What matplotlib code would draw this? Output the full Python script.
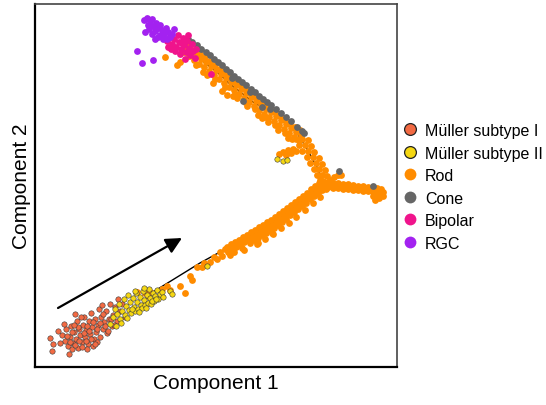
import numpy as np
import matplotlib
matplotlib.use("Agg")
import matplotlib.pyplot as plt
from matplotlib.lines import Line2D

plt.rcParams['font.family'] = ['Liberation Sans', 'DejaVu Sans']

# ---- data: (Component 1, Component 2) per cell type ----
muller1 = np.array([
    (50,-339),(53,-345),(52,-352),(58,-332),(62,-336),(65,-342),(66,-330),(68,-347),(70,-338),(71,-327),
    (73,-344),(74,-333),(76,-340),(77,-322),(78,-349),(79,-330),(80,-336),(82,-343),(83,-326),(84,-318),
    (85,-338),(86,-331),(88,-345),(89,-322),(90,-335),(91,-314),(92,-328),(94,-340),(95,-320),(96,-333),
    (98,-326),(99,-310),(100,-338),(101,-318),(103,-330),(104,-323),(106,-312),(107,-334),(109,-320),(110,-305),
    (112,-327),(113,-316),(115,-308),(117,-322),(118,-300),(120,-312),(122,-305),(125,-318),(60,-344),(72,-350),
    (87,-350),(93,-347),(81,-318),(97,-343),(102,-306),(64,-325),(75,-315),(108,-332),(114,-326),(69,-355),
    (67,-337),(72,-333),(75,-346),(79,-342),(84,-334),(87,-327),(91,-340),(93,-323),(97,-330),(100,-324),
    (105,-327),(78,-328),(82,-348),(89,-332),(95,-345),(103,-315),(111,-320),(86,-342),(70,-343),(74,-326)])

muller2 = np.array([
    (110,-325),(113,-318),(115,-310),(117,-315),(119,-305),(120,-320),(122,-312),(124,-300),(125,-316),(126,-307),
    (128,-296),(129,-311),(130,-303),(131,-314),(133,-299),(134,-308),(135,-312),(136,-294),(137,-303),(138,-310),
    (140,-298),(141,-306),(142,-309),(143,-292),(144,-301),(145,-306),(147,-296),(148,-304),(149,-290),(150,-299),
    (151,-305),(153,-294),(154,-302),(155,-297),(157,-291),(158,-300),(160,-295),(162,-293),(127,-319),(132,-310),
    (139,-313),(146,-309),(152,-302),(156,-300),(121,-324),(116,-327),(163,-298),(170,-292),(172,-295),(207,-267),
    (277,-160),(283,-162),(287,-161),(135,-292),(144,-289)])

rod = np.array([
    # early sparse cells
    (137,-293),(145,-294),(148,-297),(150,-293),(162,-290),(167,-287),(170,-291),(180,-287),(185,-294),(190,-277),
    (192,-281),(197,-268),(202,-268),(204,-264),(210,-263),(214,-258),(217,-260),(220,-253),(222,-257),(225,-250),
    # lower dense branch
    (227,-248),(228,-253),(231,-245),(232,-250),(235,-243),(236,-248),(234,-253),(239,-241),(240,-246),(243,-238),
    (244,-243),(242,-249),(247,-236),(248,-241),(251,-233),(252,-238),(250,-244),(255,-231),(256,-236),(254,-241),
    (259,-228),(260,-233),(258,-239),(263,-226),(264,-231),(262,-236),(267,-223),(268,-228),(266,-234),(271,-221),
    (272,-226),(270,-231),(275,-218),(276,-223),(274,-229),(279,-215),(280,-220),(278,-226),(283,-212),(284,-217),
    (282,-223),(287,-209),(288,-214),(286,-220),(291,-206),(292,-211),(290,-216),(295,-203),(296,-208),(294,-213),
    (299,-200),(300,-205),(298,-210),(303,-197),(304,-202),(302,-207),(307,-194),(308,-199),(306,-204),(311,-190),
    (312,-195),(310,-200),(315,-187),(316,-192),(314,-197),(319,-184),(320,-189),(318,-194),(323,-182),(324,-186),
    (322,-191),(272,-234),(258,-244),(244,-251),(230,-256),(296,-218),
    (257,-245),(265,-240),(273,-235),(281,-229),(289,-224),(305,-211),(313,-204),(320,-198),(326,-190),
    # right branch
    (328,-183),(328,-188),(333,-184),(333,-189),(338,-184),(338,-189),(343,-185),(343,-190),(348,-185),(348,-190),
    (353,-186),(353,-191),(358,-187),(358,-191),(363,-187),(363,-192),(368,-188),(368,-192),(373,-188),(373,-193),
    (373,-197),(377,-189),(377,-194),(377,-198),(381,-190),(381,-195),(330,-181),(334,-178),(338,-176),(341,-176),
    (331,-186),(336,-187),(341,-187),(346,-188),(351,-188),(356,-189),(361,-189),(366,-190),(371,-190),(376,-191),
    (380,-192),(383,-193),(379,-199),(383,-197),(375,-201),
    # upper branch, steep part
    (296,-140),(302,-140),(308,-141),(299,-146),(305,-146),(311,-147),(302,-152),(308,-152),(314,-153),(307,-158),
    (313,-158),(319,-159),(310,-164),(316,-164),(322,-165),(314,-170),(319,-170),(325,-171),(317,-176),(322,-176),
    (327,-177),(320,-181),
    # small side spur
    (293,-150),(288,-151),(283,-153),(279,-155),(286,-156),(291,-154),(296,-152),
    # upper branch, diagonal part
    (185,-43),(186,-48),(184,-53),(190,-47),(191,-52),(189,-57),(195,-51),(196,-56),(194,-61),(200,-55),
    (201,-60),(199,-65),(205,-58),(206,-63),(204,-68),(210,-62),(211,-67),(209,-72),(215,-66),(216,-71),
    (214,-76),(220,-70),(221,-75),(219,-80),(225,-74),(226,-79),(224,-84),(230,-78),(231,-83),(229,-88),
    (235,-81),(236,-86),(234,-91),(240,-85),(241,-90),(239,-95),(245,-89),(246,-94),(244,-99),(250,-93),
    (251,-98),(249,-103),(255,-97),(256,-102),(254,-107),(260,-101),(261,-106),(259,-111),(265,-105),(266,-110),
    (264,-115),(270,-108),(271,-113),(269,-118),(275,-112),(276,-117),(274,-122),(280,-116),(281,-121),(279,-126),
    (285,-120),(286,-125),(284,-130),(290,-124),(291,-129),(289,-134),(295,-128),(296,-133),(294,-138),(300,-131),
    (301,-136),(299,-141),
    (215,-80),(225,-88),(235,-95),(245,-103),(255,-110),(265,-118),(275,-126),(285,-134),(292,-140),
    # scattered below upper branch
    (203,-73),(213,-84),(222,-92),(227,-96),(237,-99),(247,-107),(258,-116),(268,-123),(278,-131),(288,-139),
    (262,-119),(233,-97),(207,-76),(196,-66),(165,-58),(177,-66),(180,-63)])

cone = np.array([
    (188,-40),(192,-43),(197,-46),(201,-50),(206,-53),(210,-56),(214,-60),(218,-63),(222,-66),(226,-70),
    (230,-73),(234,-77),(238,-80),(242,-83),(246,-86),(251,-90),(255,-93),(259,-97),(263,-100),(267,-103),
    (271,-106),(276,-110),(281,-114),(286,-118),(291,-122),(297,-128),(302,-132),(243,-102),(262,-108),(304,-134),
    (339,-172),(373,-187),(232,-79),(250,-93),(270,-110)])

bipolar = np.array([
    (167,-42),(170,-38),(172,-45),(174,-40),(176,-48),(178,-36),(179,-43),(181,-50),(183,-39),(184,-46),
    (186,-53),(187,-42),(189,-49),(190,-56),(192,-45),(193,-52),(195,-59),(180,-55),(185,-60),(175,-52),
    (171,-50),(188,-36),(196,-50),(211,-75),(168,-48),(182,-44)])

rgc = np.array([
    (144,-21),(147,-19),(150,-22),(152,-20),(148,-26),(153,-27),(156,-24),(158,-29),(155,-32),(160,-26),
    (162,-31),(164,-35),(160,-36),(166,-29),(168,-33),(170,-38),(167,-40),(172,-35),(163,-40),(158,-38),
    (145,-33),(152,-35),(155,-40),(137,-52),(142,-64),(153,-61),(174,-30),(149,-30)])

# principal-graph (trajectory) branches
traj_lower = np.array([(153,-293),(200,-264),(240,-242),(280,-219),(310,-195),(323,-183)])
traj_upper = np.array([(323,-183),(317,-168),(307,-150),(297,-134),(275,-116),(253,-103),(230,-85),
                       (217,-73),(200,-60),(185,-48)])
traj_right = np.array([(323,-183),(350,-186),(373,-190)])

arrow_start = (58, -309)
arrow_end = (182, -239)

labels = ['Müller subtype I', 'Müller subtype II', 'Rod', 'Cone', 'Bipolar', 'RGC']
colors = ['#F26A43', '#F5D712', '#FF8C00', '#666666', '#F0148C', '#A322F0']

# ---- figure ----
fig = plt.figure(figsize=(5.46, 4.06), dpi=100)
ax = fig.add_axes([35/546, 38/406, 362/546, 363/406])

for seg in (traj_lower, traj_upper, traj_right):
    ax.plot(seg[:, 0], seg[:, 1], color='black', lw=1.0, zorder=1)

s_plain = 24
ax.scatter(rod[:, 0], rod[:, 1], s=s_plain, color=colors[2], linewidths=0, zorder=2)
ax.scatter(cone[:, 0], cone[:, 1], s=s_plain, color=colors[3], linewidths=0, zorder=3)
ax.scatter(bipolar[:, 0], bipolar[:, 1], s=s_plain, color=colors[4], linewidths=0, zorder=4)
ax.scatter(rgc[:, 0], rgc[:, 1], s=s_plain, color=colors[5], linewidths=0, zorder=5)
ax.scatter(muller1[:, 0], muller1[:, 1], s=15, color=colors[0], edgecolors='#3a3a3a',
           linewidths=0.4, zorder=6)
ax.scatter(muller2[:, 0], muller2[:, 1], s=15, color=colors[1], edgecolors='#3a3a3a',
           linewidths=0.4, zorder=7)

ax.annotate('', xy=arrow_end, xytext=arrow_start,
            arrowprops=dict(arrowstyle='-|>', color='black', lw=1.6, mutation_scale=24,
                            shrinkA=0, shrinkB=0), zorder=8)

ax.set_xlim(35, 397)
ax.set_ylim(-368, -5)
ax.set_xticks([])
ax.set_yticks([])
for side in ('left', 'bottom'):
    ax.spines[side].set_color('black')
    ax.spines[side].set_linewidth(1.6)
for side in ('top', 'right'):
    ax.spines[side].set_color('#444444')
    ax.spines[side].set_linewidth(1.2)

ax.set_xlabel('Component 1', fontsize=15, labelpad=4)
ax.set_ylabel('Component 2', fontsize=15, labelpad=3)

handles = []
for i, (lab, c) in enumerate(zip(labels, colors)):
    edge = '#222222' if i < 2 else c
    handles.append(Line2D([], [], marker='o', linestyle='none', markersize=8.5,
                          markerfacecolor=c, markeredgecolor=edge, markeredgewidth=0.9 if i < 2 else 0))
fig.legend(handles, labels, loc='upper left', bbox_to_anchor=(404/546, 1 - 124/406),
           frameon=False, fontsize=11.5, handlelength=0.8, handletextpad=0.5,
           labelspacing=0.47, borderpad=0, borderaxespad=0)

fig.savefig('out.png', dpi=100)
